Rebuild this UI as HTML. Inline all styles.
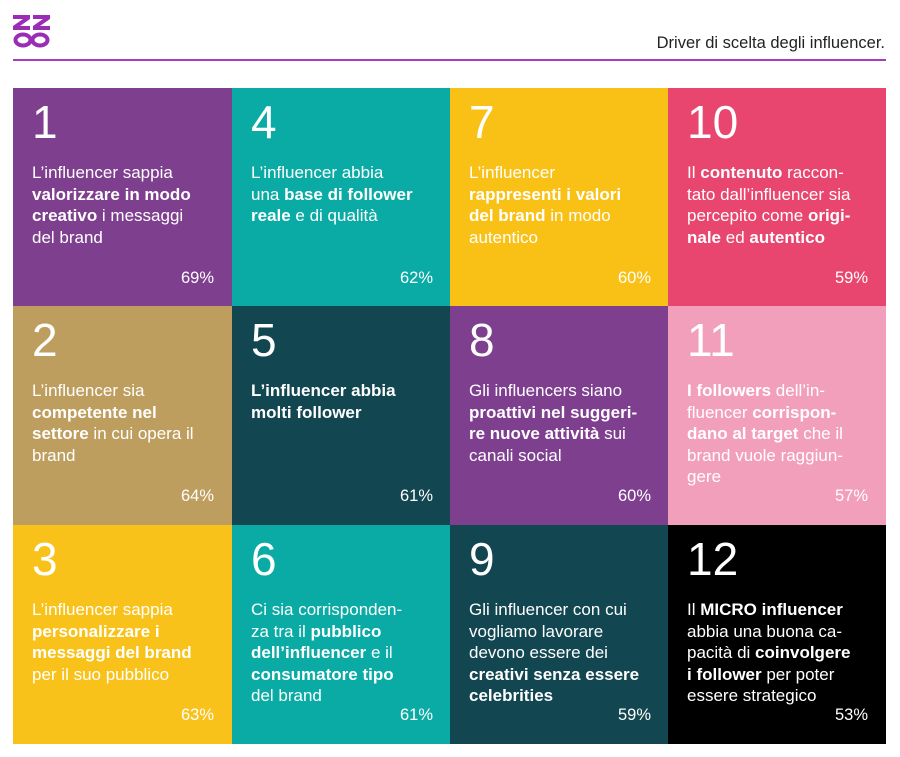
<!DOCTYPE html>
<html><head><meta charset="utf-8">
<style>
body{margin:0;background:#fff;width:900px;height:757px;position:relative;overflow:hidden;font-family:"Liberation Sans",sans-serif}
.tile{position:absolute;width:219px;height:219px;color:#fff;box-sizing:border-box}
.num{position:absolute;left:19px;top:8px;font-size:46px;line-height:52px}
.txt{position:absolute;left:19px;top:74px;font-size:17px;line-height:21.5px;white-space:nowrap}
.txt b{font-weight:bold}
.pct{position:absolute;right:18px;top:180px;font-size:16.5px;line-height:20px}
</style></head><body>
<svg style="position:absolute;left:13px;top:15px" width="38" height="33" viewBox="0 0 38 33">
<g fill="#9b2cb5">
<polygon points="0,0 17,0 17,4 7,11 17,11 17,15 0,15 0,11 10,4 0,4"/>
<polygon points="20,0 37,0 37,4 27,11 37,11 37,15 20,15 20,11 30,4 20,4"/>
</g>
<g fill="none" stroke="#9b2cb5" stroke-width="4">
<ellipse cx="10" cy="25" rx="7.5" ry="5.5"/>
<ellipse cx="27" cy="25" rx="7.5" ry="5.5"/>
</g>
</svg>
<div style="position:absolute;right:15px;top:34px;font-size:16.5px;color:#222">Driver di scelta degli influencer.</div>
<div style="position:absolute;left:13px;top:59px;width:873px;height:2px;background:#a33fbf"></div>
<div id="grid"></div>
<script>
const ranks=[1,2,3,4,5,6,7,8,9,10,11,12];
const values=[69,64,63,62,61,61,60,60,59,59,57,53];
const colors=["#7f3f8f","#be9e5e","#f8c21a","#0aaba5","#124651","#0aaba5","#f9c116","#7f3f8f","#124651","#e8466e","#f29fbb","#000000"];
const texts=[
"L’influencer sappia<br><b>valorizzare in modo</b><br><b>creativo</b> i messaggi<br>del brand",
"L’influencer sia<br><b>competente nel</b><br><b>settore</b> in cui opera il<br>brand",
"L’influencer sappia<br><b>personalizzare i</b><br><b>messaggi del brand</b><br>per il suo pubblico",
"L’influencer abbia<br>una <b>base di follower</b><br><b>reale</b> e di qualità",
"<b>L’influencer abbia</b><br><b>molti follower</b>",
"Ci sia corrisponden-<br>za tra il <b>pubblico</b><br><b>dell’influencer</b> e il<br><b>consumatore tipo</b><br>del brand",
"L’influencer<br><b>rappresenti i valori</b><br><b>del brand</b> in modo<br>autentico",
"Gli influencers siano<br><b>proattivi nel suggeri-</b><br><b>re nuove attività</b> sui<br>canali social",
"Gli influencer con cui<br>vogliamo lavorare<br>devono essere dei<br><b>creativi senza essere</b><br><b>celebrities</b>",
"Il <b>contenuto</b> raccon-<br>tato dall’influencer sia<br>percepito come <b>origi-</b><br><b>nale</b> ed <b>autentico</b>",
"<b>I followers</b> dell’in-<br>fluencer <b>corrispon-</b><br><b>dano al target</b> che il<br>brand vuole raggiun-<br>gere",
"Il <b>MICRO influencer</b><br>abbia una buona ca-<br>pacità di <b>coinvolgere</b><br><b>i follower</b> per poter<br>essere strategico"];
const colX=[13,232,450,668], rowY=[88,306,525];
const g=document.getElementById('grid');
ranks.forEach((r,i)=>{
  const c=Math.floor(i/3), rw=i%3;
  const t=document.createElement('div');
  t.className='tile';
  
  
  t.style.left=colX[c]+'px';t.style.top=rowY[rw]+'px';t.style.background=colors[i];
  t.style.width=(c==3?218:219)+'px';
  const n=document.createElement('div');n.className='num';n.textContent=r;
  
  
  const tx=document.createElement('div');tx.className='txt';tx.innerHTML=texts[i];
  
  
  const p=document.createElement('div');p.className='pct';p.textContent=values[i]+'%';
  
  
  t.append(n,tx,p);g.appendChild(t);
});
</script>
</body></html>
